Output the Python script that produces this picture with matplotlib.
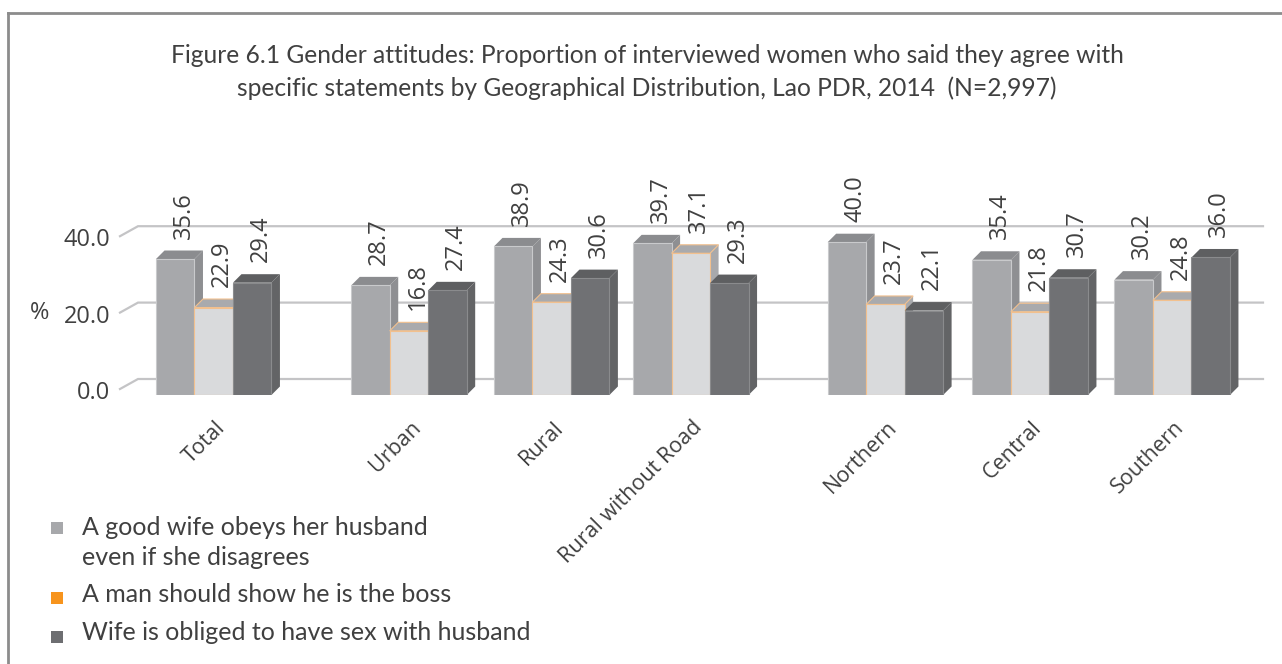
import matplotlib
matplotlib.use("Agg")
import matplotlib.pyplot as plt
import matplotlib.transforms as mtransforms
from matplotlib.patches import Polygon, Rectangle
from matplotlib.lines import Line2D

# ---------------- data ----------------
categories = ["Total", "Urban", "Rural", "Rural without Road", "Northern", "Central", "Southern"]
obeys = [35.6, 28.7, 38.9, 39.7, 40.0, 35.4, 30.2]
boss = [22.9, 16.8, 24.3, 37.1, 23.7, 21.8, 24.8]
sex_obliged = [29.4, 27.4, 30.6, 29.3, 22.1, 30.7, 36.0]
series_labels = ["A good wife obeys her husband\neven if she disagrees",
                 "A man should show he is the boss",
                 "Wife is obliged to have sex with husband"]
yticks = [0, 20, 40]
title = ("Figure 6.1 Gender attitudes: Proportion of interviewed women who said they agree with\n"
         "specific statements by Geographical Distribution, Lao PDR, 2014  (N=2,997)")

# ---------------- style ----------------
W, H, DPI = 1282, 664, 100
TXT = "#404040"
front_cols = ["#A7A8AB", "#D9DADC", "#707174"]
top_cols = ["#8B8C8F", "#A9AAAD", "#5E5F61"]
side_cols = ["#8E8F92", "#A8A9AC", "#636466"]
edge_cols = ["#C9CACC", "#F2C08E", "#8A8B8D"]
legend_cols = ["#A7A8AB", "#F7941D", "#6D6E71"]
group_x = [0.66, 2.035, 3.04, 4.02, 5.39, 6.41, 7.41]   # layout positions
bar_w = 0.271
DEPTH = 8.5        # px depth of bars
WALL_DX, WALL_DY = 18, 16   # px offset of back wall

fig = plt.figure(figsize=(W / DPI, H / DPI), dpi=DPI)
fig.patch.set_facecolor("white")

def fx(px):
    return px / W

def fy(py):
    return 1 - py / H

ax_left, ax_right = 120, 1263
ax_bottom = 395
px_per_unit = 3.82
ymax = 50
ax = fig.add_axes([fx(ax_left), fy(ax_bottom), (ax_right - ax_left) / W, ymax * px_per_unit / H])
ax.set_xlim(0, (ax_right - ax_left) / 142.0)
ax.set_ylim(0, ymax)
ax.set_facecolor("none")
for s in ax.spines.values():
    s.set_visible(False)
ax.set_xticks([])

def shift(x, y, dxp, dyp):
    d = ax.transData.transform((x, y))
    return tuple(ax.transData.inverted().transform((d[0] + dxp, d[1] + dyp)))

# gridlines on back wall + diagonal on left wall
xmax = ax.get_xlim()[1]
for v in yticks:
    p_front = shift(0, v, 0, 6)
    p_back = shift(0, v, WALL_DX, WALL_DY)
    p_end = shift(xmax, v, 0, WALL_DY)
    ax.plot([p_front[0], p_back[0], p_end[0]], [p_front[1], p_back[1], p_end[1]],
            color="#C4C4C6", lw=1.6, zorder=0, clip_on=False, solid_joinstyle="miter")

ax.set_yticks(yticks)
ax.set_yticklabels([f"{v:.1f}" for v in yticks], fontsize=17, color=TXT, family="Open Sans")
ax.tick_params(axis="y", length=0, pad=7)
off = mtransforms.ScaledTranslation(0, 5 / DPI, fig.dpi_scale_trans)
for lab in ax.get_yticklabels():
    lab.set_transform(lab.get_transform() + off)

# bars
series = [obeys, boss, sex_obliged]
for g, gx in enumerate(group_x):
    for s in range(3):
        h = series[s][g]
        x0 = gx - 1.5 * bar_w + s * bar_w
        x1 = x0 + bar_w
        z = 2 + g * 3 + s
        side = [(x1, 0), shift(x1, 0, DEPTH, DEPTH), shift(x1, h, DEPTH, DEPTH), (x1, h)]
        ax.add_patch(Polygon(side, closed=True, facecolor=side_cols[s], edgecolor="none", zorder=z))
        top = [(x0, h), (x1, h), shift(x1, h, DEPTH, DEPTH), shift(x0, h, DEPTH, DEPTH)]
        ax.add_patch(Polygon(top, closed=True, facecolor=top_cols[s],
                             edgecolor=edge_cols[s] if s == 1 else "none", lw=0.8, zorder=z))
        ax.bar(x0, h, width=bar_w, align="edge", color=front_cols[s], edgecolor=edge_cols[s],
               linewidth=0.8, zorder=z)
        ax.annotate(f"{h:.1f}", xy=(x0 + bar_w / 2, h), xytext=(DEPTH, DEPTH + 12),
                    textcoords="offset pixels", rotation=90, ha="center", va="bottom",
                    fontsize=17, color=TXT, family="Open Sans", zorder=40)

# category labels
for gx, cat in zip(group_x, categories):
    ax.annotate(cat, xy=(gx, 0), xytext=(1, -22), textcoords="offset pixels",
                rotation=45, rotation_mode="anchor", ha="right", va="top",
                fontsize=15.5, color=TXT, family="Open Sans", annotation_clip=False)

# percent sign
fig.text(fx(40), fy(313), "%", fontsize=17, color=TXT, family="Open Sans", ha="center", va="center")

# title
fig.text(fx(647), fy(72), title, ha="center", va="center", multialignment="center",
         fontsize=17.7, color=TXT, family="Lato", linespacing=1.5)

# legend (manual)
sq_centers = [528, 598, 637]
baselines = [535, 602, 640]
for i, lab in enumerate(series_labels):
    sz = 12
    fig.patches.append(Rectangle((fx(51), fy(sq_centers[i] + sz / 2)), sz / W, sz / H,
                                 transform=fig.transFigure, facecolor=legend_cols[i], edgecolor="none"))
    for j, line in enumerate(lab.split("\n")):
        fig.text(fx(82), fy(baselines[i] + 30 * j), line, ha="left", va="baseline",
                 fontsize=18, color=TXT, family="Lato")

# outer frame (top and left)
fig.lines.append(Line2D([fx(8), 1], [fy(13), fy(13)], transform=fig.transFigure, color="#8C8C8C", lw=2))
fig.lines.append(Line2D([fx(8), fx(8)], [fy(13), 0], transform=fig.transFigure, color="#8C8C8C", lw=2))

fig.savefig("out.png", dpi=DPI, facecolor="white")
